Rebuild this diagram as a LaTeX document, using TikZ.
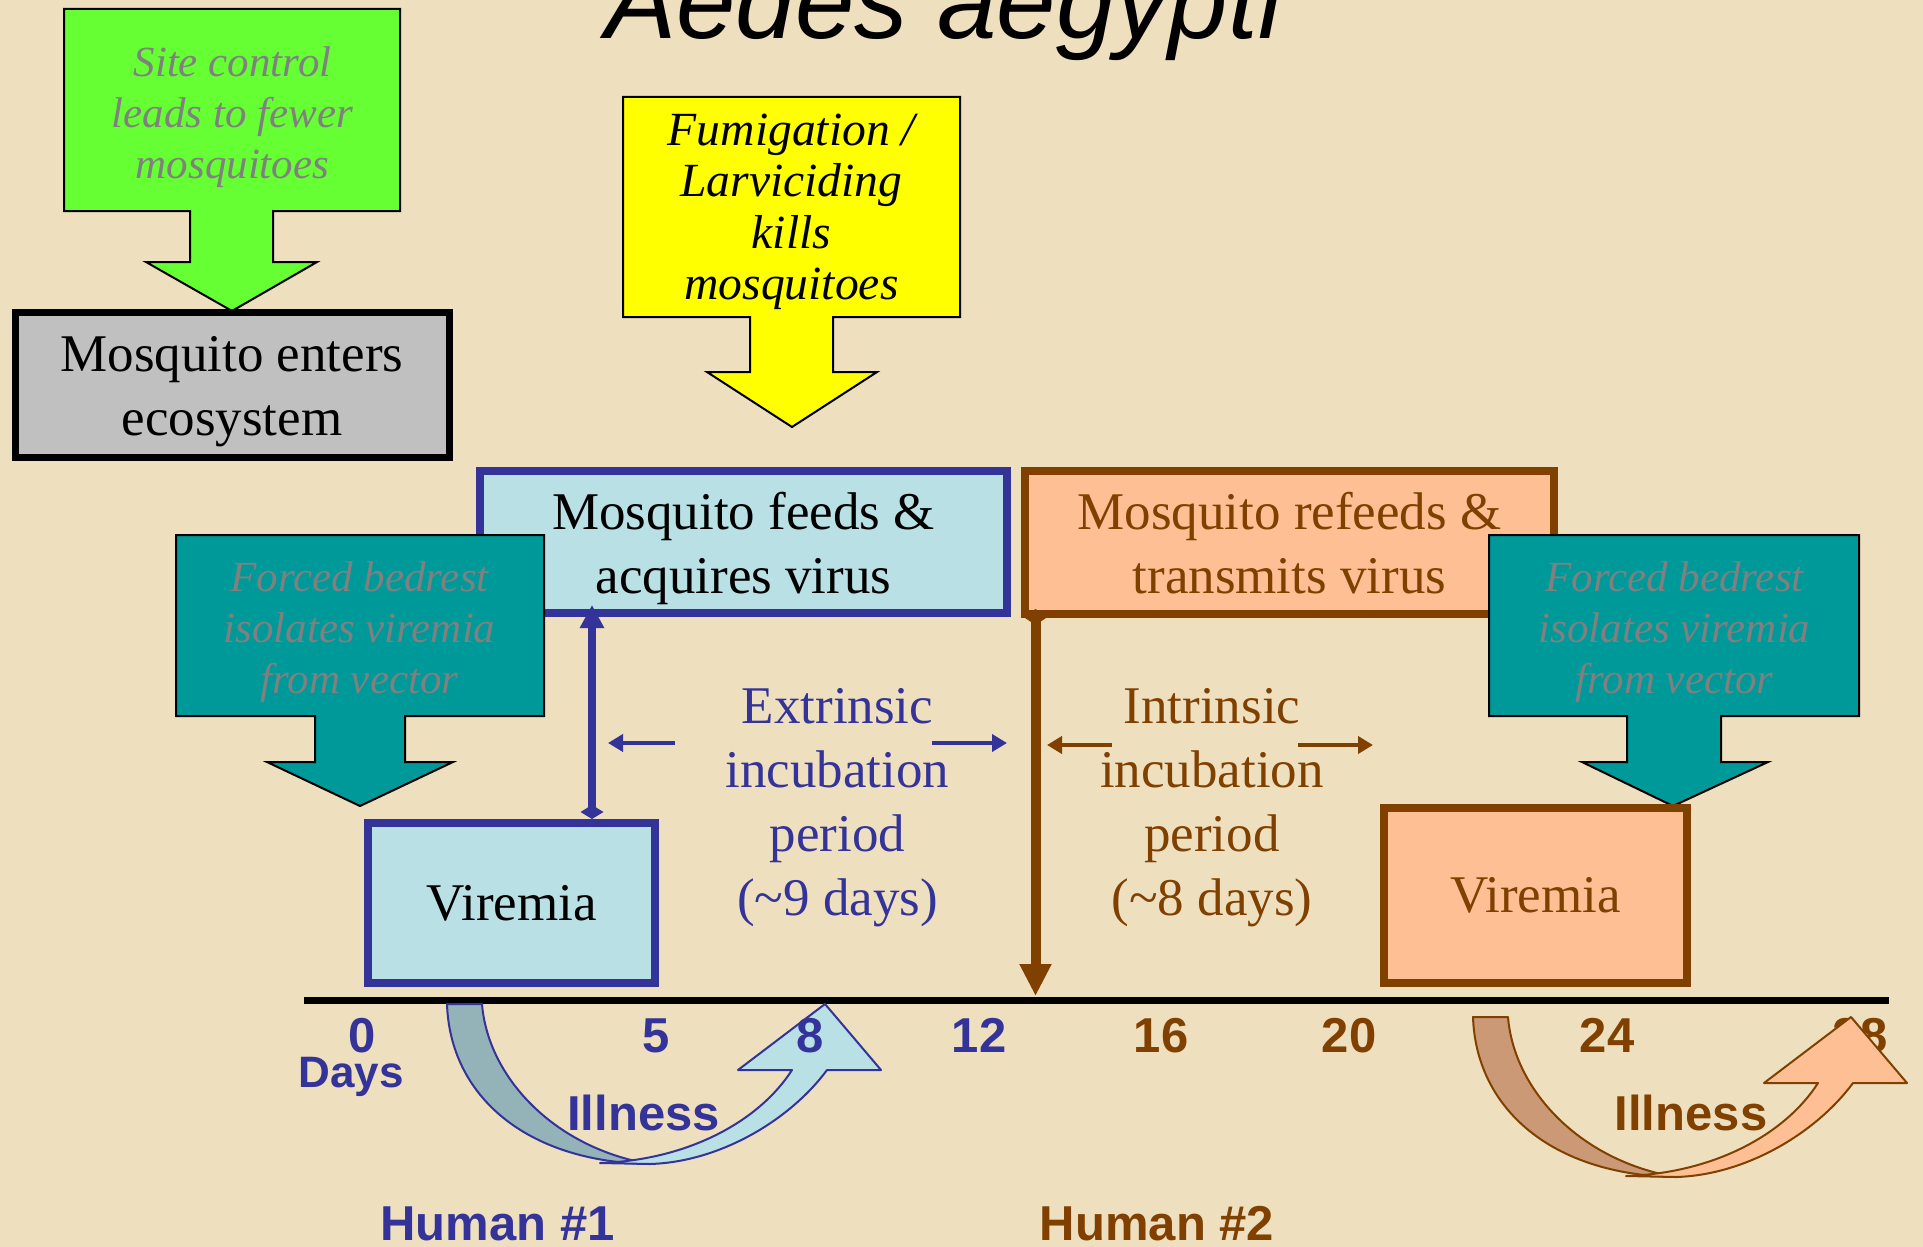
\documentclass[tikz,border=0pt]{standalone}
\usepackage{fontspec}
\setmainfont{Liberation Serif}
\setsansfont{Liberation Sans}
\usetikzlibrary{arrows.meta}
\definecolor{bg}{HTML}{EEDFBF}
\definecolor{grn}{HTML}{66FF33}
\definecolor{ylw}{HTML}{FFFF00}
\definecolor{teal1}{HTML}{009999}
\definecolor{navy1}{HTML}{333399}
\definecolor{brn}{HTML}{804000}
\definecolor{lblue}{HTML}{B9E0E5}
\definecolor{salmon}{HTML}{FFBF94}
\definecolor{gry}{HTML}{C0C0C0}
\definecolor{txtgray}{HTML}{808080}
\definecolor{dkblue}{HTML}{93B3B8}
\definecolor{dkbrn}{HTML}{CC9977}
\newcommand\BoxFnt{\fontsize{26.5}{32}\selectfont}
\newcommand\CallFnt{\fontsize{21.5}{25.5}\selectfont\itshape}
\newcommand\YelFnt{\fontsize{23.8}{25.8}\selectfont\itshape}
\newcommand\LabFnt{\fontsize{24.5}{28}\selectfont\sffamily\bfseries}
\newcommand\TopS{\rule{0pt}{25pt}}
\newcommand\BotS{\rule[-6pt]{0pt}{0pt}}
\newcommand\IllArrow[5]{%
\begin{scope}[shift={(#1,#2)}, draw=#5, line width=1pt, line join=round]
 \filldraw[fill=#3] (447,1004) .. controls (450,1095) and (525,1162) .. (650,1164)
   .. controls (555,1148) and (488,1078) .. (482,1004) -- cycle;
 \filldraw[fill=#4] (650,1164) .. controls (720,1162) and (790,1120) .. (827,1070)
   -- (881,1070) -- (825,1004) -- (738,1070) -- (792,1070)
   .. controls (760,1120) and (690,1160) .. (600,1163) -- cycle;
\end{scope}}
\tikzset{
  callout/.style={draw=black, line width=1pt, line join=miter},
  calltext/.style={align=center, inner sep=0pt, font=\CallFnt},
  tbox/.style={rectangle, line width=4pt, outer sep=0pt, inner sep=0pt, align=center, font=\BoxFnt},
  bluebox/.style={tbox, draw=navy1, fill=lblue, text=black},
  orangebox/.style={tbox, draw=brn, fill=salmon, text=brn},
  periodtext/.style={align=center, inner sep=0pt, font=\BoxFnt},
  daylab/.style={anchor=base, inner sep=0pt, font=\LabFnt},
  smallarr/.style={line width=2pt, -{Triangle[length=7.5pt,width=8.5pt]}},
}
\begin{document}
\begin{tikzpicture}[x=0.5pt,y=-0.5pt]
\useasboundingbox (0,0) rectangle (1923,1247);
\fill[bg] (0,0) rectangle (1923,1247);
% title
\node[anchor=base, inner sep=0pt, font=\fontsize{53.4}{60}\selectfont\sffamily\itshape] (title) at (943.5,39) {Aedes aegypti};
% green callout
\path[callout, fill=grn] (64,9) -- (400,9) -- (400,211) -- (273,211) -- (273,262) -- (317,262)
  -- (232,311) -- (146,262) -- (190,262) -- (190,211) -- (64,211) -- cycle;
\node[calltext, text=txtgray] (site) at (232.5,116.9) {Site control\\leads to fewer\\mosquitoes};
% gray box
\node[tbox, line width=3.5pt, draw=black, fill=gry, minimum width=217pt, minimum height=72.5pt] (enters) at (232,384.5) {\TopS Mosquito enters\\ecosystem\BotS};
% yellow callout
\path[callout, fill=ylw] (623,97) -- (960,97) -- (960,317) -- (833,317) -- (833,372) -- (877,372)
  -- (792,427) -- (707,372) -- (750,372) -- (750,317) -- (623,317) -- cycle;
\node[calltext, font=\YelFnt] (fumig) at (791.5,211.9) {Fumigation /\\Larviciding\\kills\\mosquitoes};
% main boxes
\node[bluebox, minimum width=263.5pt, minimum height=71pt] (feeds) at (743.5,542) {\TopS Mosquito feeds \&\\acquires virus\BotS};
\node[orangebox, minimum width=264.5pt, minimum height=71.5pt] (refeeds) at (1289.5,542.5) {\TopS Mosquito refeeds \&\\transmits virus\BotS};
% teal callouts
\path[callout, fill=teal1] (176,535) -- (544,535) -- (544,716) -- (405,716) -- (405,762) -- (453,762)
  -- (360,806) -- (267,762) -- (315,762) -- (315,716) -- (176,716) -- cycle;
\node[calltext, text=txtgray] (bed1) at (359.5,632.4) {Forced bedrest\\isolates viremia\\from vector};
\path[callout, fill=teal1] (1489,535) -- (1859,535) -- (1859,716) -- (1721,716) -- (1721,762) -- (1768,762)
  -- (1673,806) -- (1582,762) -- (1627,762) -- (1627,716) -- (1489,716) -- cycle;
\node[calltext, text=txtgray] (bed2) at (1674.5,632.4) {Forced bedrest\\isolates viremia\\from vector};
% viremia boxes
\node[bluebox, minimum width=143.5pt, minimum height=80pt] (vir1) at (511.5,903) {Viremia};
\node[orangebox, minimum width=151.5pt, minimum height=87.5pt] (vir2) at (1535.5,895.5) {Viremia};
% timeline
\coordinate (tlA) at (304,1000.5);
\coordinate (tlB) at (1889,1000.5);
% connectors
\coordinate (cf) at (592,0);
\draw[line width=4pt, navy1, {Diamond[length=7pt,width=11.5pt]}-{Triangle[length=11.5pt,width=11.5pt]}, shorten <=2pt, shorten >=-4pt] (vir1.north -| cf) -- (feeds.south -| cf);
\coordinate (cb) at (1035.5,0);
\draw[line width=5pt, brn, {Diamond[length=8pt,width=12pt]}-{Triangle[length=16pt,width=15pt]}, shorten <=-2.5pt, shorten >=2.25pt] (refeeds.south -| cb) -- (tlA -| cb);
% incubation texts
\node[periodtext, text=navy1] (extr) at (837.5,807.2) {Extrinsic\\incubation\\period\\(\char"007E 9 days)};
\node[periodtext, text=brn] (intr) at (1212,807.2) {Intrinsic\\incubation\\period\\(\char"007E 8 days)};
\coordinate (ea0) at (675,743); \coordinate (ea1) at (608,743);
\coordinate (eb0) at (932,743); \coordinate (eb1) at (1007,743);
\coordinate (ia0) at (1112,745); \coordinate (ia1) at (1047,745);
\coordinate (ib0) at (1298,745); \coordinate (ib1) at (1373,745);
\draw[smallarr, navy1] (ea0) -- (ea1);
\draw[smallarr, navy1] (eb0) -- (eb1);
\draw[smallarr, brn] (ia0) -- (ia1);
\draw[smallarr, brn] (ib0) -- (ib1);
\draw[line width=3.5pt, black] (tlA) -- (tlB);
% illness arrow human 1
\IllArrow{0}{0}{dkblue}{lblue}{navy1}
% day labels
\node[daylab, text=navy1] (d0) at (362,1052) {0};
\node[daylab, text=navy1] (d5) at (656,1052) {5};
\node[daylab, text=navy1] (d8) at (810,1052) {8};
\node[daylab, text=navy1] (d12) at (979,1052) {12};
\node[daylab, text=brn] (d16) at (1161,1052) {16};
\node[daylab, text=brn] (d20) at (1349,1052) {20};
\node[daylab, text=brn] (d24) at (1607,1052) {24};
\node[daylab, text=brn] (d28) at (1860,1052) {28};
\node[daylab, text=navy1, font=\fontsize{22}{26}\selectfont\sffamily\bfseries] (days) at (351,1087) {Days};
% illness arrow human 2
\IllArrow{1026}{13}{dkbrn}{salmon}{brn}
\node[daylab, text=navy1] (ill1) at (643.5,1130) {Illness};
\node[daylab, text=brn] (ill2) at (1691,1130) {Illness};
\node[daylab, text=navy1] (h1) at (497.5,1240) {Human \#1};
\node[daylab, text=brn] (h2) at (1157,1240) {Human \#2};
\end{tikzpicture}
\end{document}
